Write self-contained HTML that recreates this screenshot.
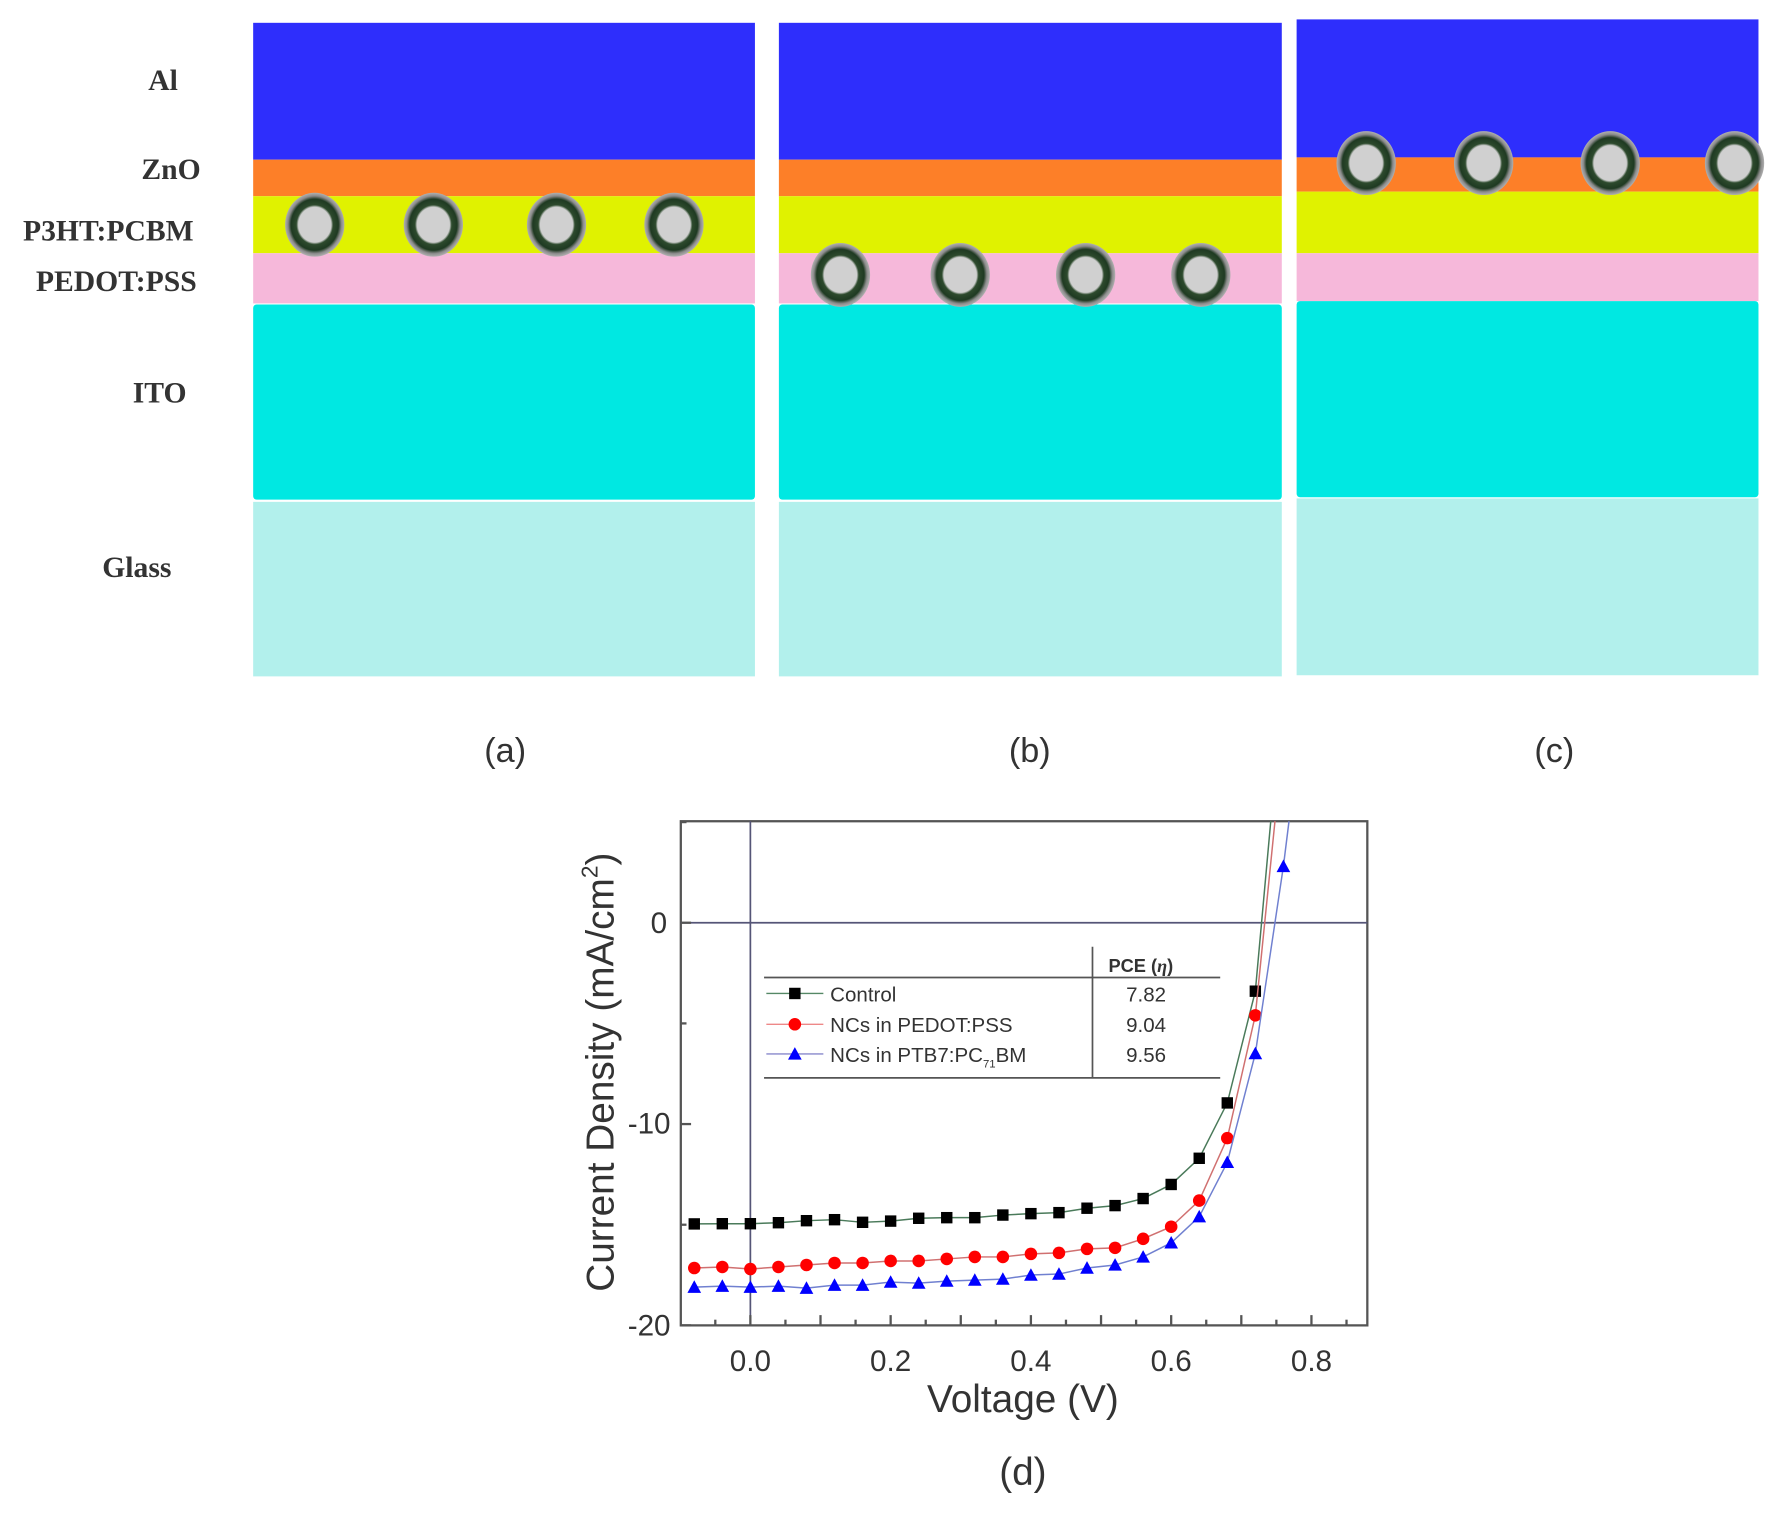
<!DOCTYPE html>
<html><head><meta charset="utf-8"><style>
html,body{margin:0;padding:0;background:#fff;}
svg{display:block;}
.s{font-family:"Liberation Serif",serif;font-weight:bold;fill:#333;font-size:26px;}
.a{font-family:"Liberation Sans",sans-serif;fill:#333;}
</style></head><body>
<svg id="g" width="1779" height="1517" viewBox="0 0 1560 1330" preserveAspectRatio="none" xmlns="http://www.w3.org/2000/svg">
<defs>
<radialGradient id="np"><stop offset="0.55" stop-color="#d0d0d0"/><stop offset="0.62" stop-color="#2d4a2d"/><stop offset="0.8" stop-color="#1f3a22"/><stop offset="0.9" stop-color="#8a8a8a"/><stop offset="1" stop-color="#b0b0b0"/></radialGradient>
</defs>
<rect x="222" y="20" width="440" height="120" fill="#2e2efc"/>
<rect x="222" y="140" width="440" height="32" fill="#fd7f28"/>
<rect x="222" y="172" width="440" height="50" fill="#e0f200"/>
<rect x="222" y="222" width="440" height="44" fill="#f6b8da"/>
<rect x="222" y="267" width="440" height="171" fill="#00e8e2" rx="3"/>
<rect x="222" y="440" width="440" height="153" fill="#b2f0ec"/>
<rect x="683" y="20" width="441" height="120" fill="#2e2efc"/>
<rect x="683" y="140" width="441" height="32" fill="#fd7f28"/>
<rect x="683" y="172" width="441" height="50" fill="#e0f200"/>
<rect x="683" y="222" width="441" height="44" fill="#f6b8da"/>
<rect x="683" y="267" width="441" height="171" fill="#00e8e2" rx="3"/>
<rect x="683" y="440" width="441" height="153" fill="#b2f0ec"/>
<rect x="1137" y="17" width="405" height="121" fill="#2e2efc"/>
<rect x="1137" y="138" width="405" height="30" fill="#fd7f28"/>
<rect x="1137" y="168" width="405" height="54" fill="#e0f200"/>
<rect x="1137" y="222" width="405" height="42" fill="#f6b8da"/>
<rect x="1137" y="264" width="405" height="172" fill="#00e8e2" rx="3"/>
<rect x="1137" y="437" width="405" height="155" fill="#b2f0ec"/>
<g id="nps"></g>
<text class="s" x="143" y="79" text-anchor="middle">Al</text>
<text class="s" x="150" y="157" text-anchor="middle">ZnO</text>
<text class="s" x="95" y="211" text-anchor="middle">P3HT:PCBM</text>
<text class="s" x="102" y="255" text-anchor="middle">PEDOT:PSS</text>
<text class="s" x="140" y="353" text-anchor="middle">ITO</text>
<text class="s" x="120" y="506" text-anchor="middle">Glass</text>
<text class="a" x="443" y="668" font-size="30" text-anchor="middle">(a)</text>
<text class="a" x="903" y="668" font-size="30" text-anchor="middle">(b)</text>
<text class="a" x="1363" y="668" font-size="30" text-anchor="middle">(c)</text>
<rect x="597" y="720" width="602" height="442" fill="none" stroke="#555" stroke-width="2"/>
<line x1="597" y1="809" x2="1199" y2="809" stroke="#557" stroke-width="1.5"/>
<line x1="658" y1="720" x2="658" y2="1162" stroke="#557" stroke-width="1.5"/>
<g id="ticks" stroke="#555" stroke-width="2"></g>
<g id="series"></g>
<text class="a" x="585" y="818" font-size="26" text-anchor="end">0</text>
<text class="a" x="588" y="994" font-size="26" text-anchor="end">-10</text>
<text class="a" x="588" y="1171" font-size="26" text-anchor="end">-20</text>
<g class="a" font-size="26" text-anchor="middle">
<text x="658" y="1202">0.0</text><text x="781" y="1202">0.2</text><text x="904" y="1202">0.4</text><text x="1027" y="1202">0.6</text><text x="1150" y="1202">0.8</text>
</g>
<text class="a" x="897" y="1238" font-size="34" text-anchor="middle">Voltage (V)</text>
<text class="a" transform="translate(538,940) rotate(-90)" font-size="34" text-anchor="middle">Current Density (mA/cm<tspan dy="-14" font-size="20">2</tspan><tspan dy="14">)</tspan></text>
<text class="a" x="897" y="1302" font-size="34" text-anchor="middle">(d)</text>
<line x1="670" y1="857" x2="1070" y2="857" stroke="#555" stroke-width="1.5"/>
<line x1="670" y1="945" x2="1070" y2="945" stroke="#555" stroke-width="1.5"/>
<line x1="958" y1="830" x2="958" y2="945" stroke="#555" stroke-width="1.5"/>
<text class="a" x="972" y="852" font-size="16" font-weight="bold">PCE (<tspan font-family="Liberation Serif" font-style="italic">η</tspan>)</text>
<line x1="672" y1="871" x2="722" y2="871" stroke="#586" stroke-width="1.2"/><rect x="692" y="866" width="10" height="10" fill="#000"/>
<line x1="672" y1="898" x2="722" y2="898" stroke="#e88" stroke-width="1.2"/><circle cx="697" cy="898" r="5.5" fill="#f00"/>
<line x1="672" y1="924" x2="722" y2="924" stroke="#88c" stroke-width="1.2"/><polygon points="697,918 703,929 691,929" fill="#00f"/>
<g class="a" font-size="18">
<text x="728" y="878">Control</text>
<text x="728" y="905">NCs in PEDOT:PSS</text>
<text x="728" y="931">NCs in PTB7:PC<tspan font-size="10" dy="5">71</tspan><tspan dy="-5">BM</tspan></text>
<text x="1005" y="878" text-anchor="middle">7.82</text>
<text x="1005" y="905" text-anchor="middle">9.04</text>
<text x="1005" y="931" text-anchor="middle">9.56</text>
</g>
</svg>
<script>
var NS="http://www.w3.org/2000/svg";
function el(p,t,a){var e=document.createElementNS(NS,t);for(var k in a)e.setAttribute(k,a[k]);p.appendChild(e);return e;}
var nps=document.getElementById("nps");
[[276,197],[380,197],[488,197],[591,197],[737,241],[842,241],[952,241],[1053,241],[1198,143],[1301,143],[1412,143],[1521,143]].forEach(function(c){el(nps,"ellipse",{cx:c[0],cy:c[1],rx:26,ry:28,fill:"url(#np)"});});
function X(v){return 658+v*615;} function Y(j){return 809-j*17.65;}
var t=document.getElementById("ticks");
for(var v=-0.05;v<0.9;v+=0.05){var big=Math.abs(Math.round(v*10)-v*10)<1e-6;el(t,"line",{x1:X(v),x2:X(v),y1:1162,y2:1162-(big?9:5)});}
[0,-5,-10,-15,-20,5].forEach(function(j){el(t,"line",{x1:597,x2:597+(j%10==0?9:5),y1:Y(j),y2:Y(j)});});
var V=[];for(var i=-2;i<=19;i++)V.push(i*0.04);
var C=[-14.96,-14.95,-14.95,-14.9,-14.8,-14.75,-14.88,-14.82,-14.68,-14.65,-14.65,-14.52,-14.45,-14.4,-14.18,-14.05,-13.7,-13.0,-11.7,-8.95,-3.4];
var R=[-17.15,-17.1,-17.2,-17.1,-17.0,-16.9,-16.9,-16.8,-16.8,-16.7,-16.6,-16.6,-16.45,-16.4,-16.2,-16.15,-15.7,-15.1,-13.8,-10.7,-4.6];
var B=[-18.1,-18.05,-18.1,-18.05,-18.15,-18.0,-18.0,-17.85,-17.9,-17.8,-17.75,-17.7,-17.5,-17.45,-17.15,-17.0,-16.6,-15.9,-14.6,-11.9,-6.5,2.8];
var s=document.getElementById("series");
function draw(d,col,mk,ext){var pts=d.map(function(j,i){return X(V[i])+","+Y(j);});pts.push(ext);
el(s,"polyline",{points:pts.join(" "),fill:"none",stroke:col,"stroke-width":1.3});
d.forEach(function(j,i){var x=X(V[i]),y=Y(j);
if(mk=="s")el(s,"rect",{x:x-5,y:y-5,width:10,height:10,fill:"#000"});
else if(mk=="c")el(s,"circle",{cx:x,cy:y,r:5.5,fill:"#f00"});
else el(s,"polygon",{points:x+","+(y-6)+" "+(x+6)+","+(y+5)+" "+(x-6)+","+(y+5),fill:"#00f"});});}
draw(C,"#4a7a5a","s",X(0.742)+",720");
draw(R,"#d07070","c",X(0.748)+",720");
draw(B,"#7080d0","t",X(0.768)+",720");
</script>
</body></html>
